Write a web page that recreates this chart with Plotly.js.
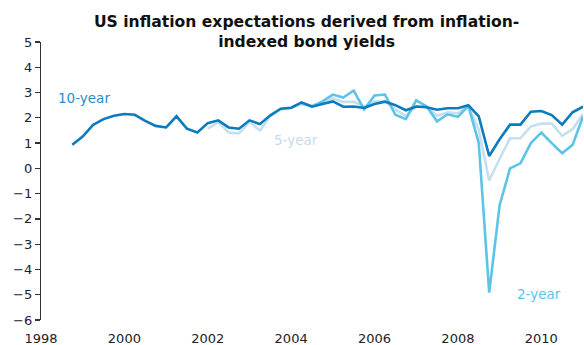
<!DOCTYPE html>
<html>
<head>
<meta charset="utf-8">
<script src="https://cdn.plot.ly/plotly-3.0.1.min.js"></script>
<style>html,body{margin:0;padding:0;background:#fff;}#chart{width:584px;height:345px;}</style>
</head>
<body>
<div id="chart"></div>
<script>
// Quarterly observation dates (decimal years)
const dates = [
  1998.75, 1999.00, 1999.25, 1999.50, 1999.75, 2000.00, 2000.25, 2000.50, 2000.75, 2001.00,
  2001.25, 2001.50, 2001.75, 2002.00, 2002.25, 2002.50, 2002.75, 2003.00, 2003.25, 2003.50,
  2003.75, 2004.00, 2004.25, 2004.50, 2004.75, 2005.00, 2005.25, 2005.50, 2005.75, 2006.00,
  2006.25, 2006.50, 2006.75, 2007.00, 2007.25, 2007.50, 2007.75, 2008.00, 2008.25, 2008.50,
  2008.75, 2009.00, 2009.25, 2009.50, 2009.75, 2010.00, 2010.25, 2010.50, 2010.75, 2011.00
];
// 10-year breakeven inflation (%)
const tenYear = [
  0.93, 1.26, 1.72, 1.95, 2.08, 2.15, 2.12, 1.88, 1.68, 1.62,
  2.06, 1.57, 1.42, 1.79, 1.90, 1.62, 1.57, 1.90, 1.75, 2.10,
  2.36, 2.40, 2.61, 2.44, 2.55, 2.65, 2.44, 2.45, 2.39, 2.55,
  2.64, 2.50, 2.30, 2.45, 2.42, 2.32, 2.38, 2.38, 2.50, 2.06,
  0.49, 1.15, 1.73, 1.73, 2.24, 2.27, 2.11, 1.73, 2.22, 2.44
];
// 5-year breakeven inflation (%)
const fiveYear = [
  null, null, null, null, null, null, null, null, null, null,
  null, null, null, 1.57, 1.83, 1.42, 1.38, 1.83, 1.50, 2.06,
  2.34, 2.38, 2.54, 2.50, 2.59, 2.77, 2.63, 2.63, 2.44, 2.65,
  2.65, 2.32, 2.08, 2.45, 2.43, 2.08, 2.22, 2.18, 2.48, 1.53,
  -0.48, 0.38, 1.19, 1.19, 1.66, 1.77, 1.77, 1.29, 1.55, 2.15
];
// 2-year breakeven inflation (%)
const twoYear = [
  null, null, null, null, null, null, null, null, null, null,
  null, null, null, null, null, null, null, null, null, null,
  null, null, 2.58, 2.45, 2.65, 2.92, 2.80, 3.08, 2.33, 2.88,
  2.92, 2.12, 1.95, 2.69, 2.45, 1.86, 2.14, 2.04, 2.47, 1.00,
  -4.92, -1.46, 0.00, 0.20, 1.00, 1.42, 1.00, 0.60, 0.93, 2.05
];
const xTicks = [1998, 2000, 2002, 2004, 2006, 2008, 2010];
const xTickText = ['1998', '2000', '2002', '2004', '2006', '2008', '2010'];
const yTicks = [-6, -5, -4, -3, -2, -1, 0, 1, 2, 3, 4, 5];

const C10 = '#0a7bbd', C5 = '#c6dfee', C2 = '#5cc4e8';
const FONT = 'DejaVu Sans, Verdana, sans-serif';

const traces = [
  {x: dates, y: fiveYear, name: '5-year', type: 'scatter', mode: 'lines',
   line: {color: C5, width: 2.6}, connectgaps: false},
  {x: dates, y: twoYear, name: '2-year', type: 'scatter', mode: 'lines',
   line: {color: C2, width: 2.6}, connectgaps: false},
  {x: dates, y: tenYear, name: '10-year', type: 'scatter', mode: 'lines',
   line: {color: C10, width: 2.6}}
];

const layout = {
  width: 584, height: 345,
  margin: {l: 41, r: 1, t: 42, b: 25},
  paper_bgcolor: '#fff', plot_bgcolor: '#fff',
  showlegend: false,
  title: {
    text: '<b>US inflation expectations derived from inflation-<br>indexed bond yields</b>',
    font: {family: FONT, size: 15.6, color: '#111'},
    xref: 'paper', x: 0.49, xanchor: 'center',
    yref: 'container', y: 0.922, yanchor: 'top'
  },
  xaxis: {
    range: [1998, 2011], tickvals: xTicks, ticktext: xTickText,
    showgrid: false, zeroline: false, showline: false,
    ticks: 'outside', ticklen: 6, tickcolor: 'rgba(0,0,0,0)',
    tickfont: {family: FONT, size: 13, color: '#222'}
  },
  xaxis2: {
    overlaying: 'x', matches: 'x', anchor: 'free', position: 6 / 11,
    range: [1998, 2011], tickvals: xTicks, showticklabels: false,
    showgrid: false, zeroline: false, showline: true, linecolor: '#111', linewidth: 1.5,
    ticks: 'outside', ticklen: 6, tickcolor: '#777', tickwidth: 1.5
  },
  yaxis: {
    range: [-6, 5], tickvals: yTicks,
    showgrid: false, zeroline: false, showline: true, linecolor: '#333', linewidth: 1.2,
    ticks: 'outside', ticklen: 5, tickcolor: '#333', tickwidth: 1.2,
    tickfont: {family: FONT, size: 13, color: '#222'}
  },
  annotations: [
    {text: '10-year', x: 1998.35, y: 2.8, xref: 'x', yref: 'y', xanchor: 'left', yanchor: 'middle',
     showarrow: false, font: {family: FONT, size: 13.5, color: '#2a8dc6'}},
    {text: '5-year', x: 2003.55, y: 1.12, xref: 'x', yref: 'y', xanchor: 'left', yanchor: 'middle',
     showarrow: false, font: {family: FONT, size: 13.5, color: '#c5dcea'}},
    {text: '2-year', x: 2009.38, y: -4.97, xref: 'x', yref: 'y', xanchor: 'left', yanchor: 'middle',
     showarrow: false, font: {family: FONT, size: 13.5, color: '#5cc4e8'}}
  ]
};

Plotly.newPlot('chart', traces, layout, {staticPlot: true, displayModeBar: false});
</script>
</body>
</html>
